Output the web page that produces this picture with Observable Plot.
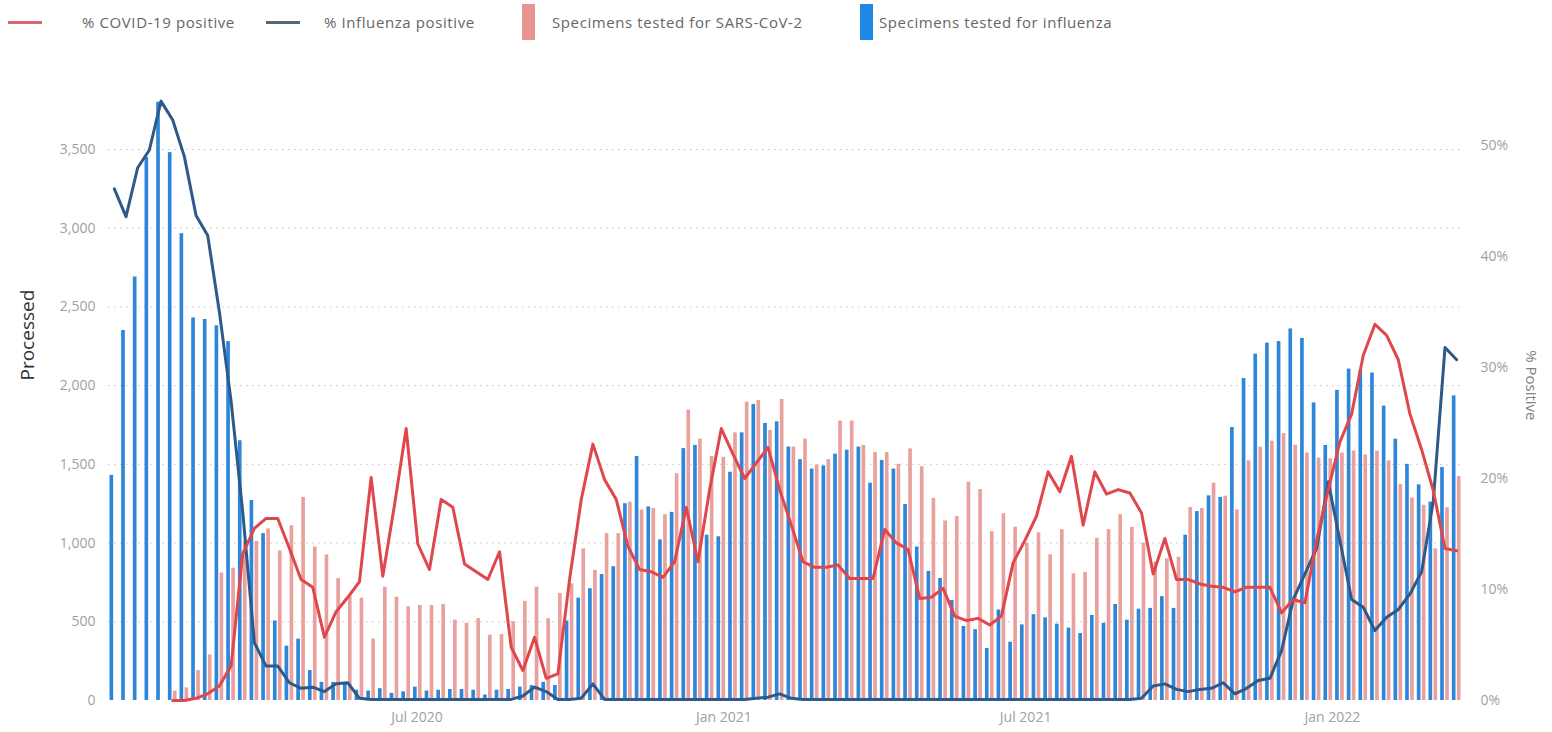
<!DOCTYPE html>
<html><head><meta charset="utf-8">
<script src="https://cdn.jsdelivr.net/npm/d3@7"></script>
<script src="https://cdn.jsdelivr.net/npm/@observablehq/plot@0.6"></script>
<style>
body{margin:0;background:#fff;font-family:"Open Sans",sans-serif;}
#legend{position:relative;width:1552px;height:50px;}
#legend .t{position:absolute;top:11px;font-size:15px;letter-spacing:0.6px;color:#666;white-space:nowrap;line-height:22px}
#legend .l{position:absolute;top:21px;height:3px;width:34px}
#legend .r{position:absolute;top:4px;width:13px;height:36px}
</style></head><body>
<div id="legend"></div>
<div id="chart"></div>
<script>
// ---- data (weekly, week starting Sunday) ----
const firstWeek = "2019-12-29";
const endWeek = "2022-03-20";
const influenzaTested = [1430,2350,2690,3450,3800,3480,2965,2430,2420,2380,
2280,1650,1270,1060,505,345,390,190,115,115,
105,65,60,75,45,55,85,60,65,70,
70,65,35,65,70,85,95,115,95,505,
650,710,800,850,1250,1550,1230,1020,1195,1600,
1620,1050,1040,1450,1700,1880,1760,1770,1610,1530,
1470,1490,1565,1590,1610,1380,1525,1470,1245,975,
820,775,635,470,450,330,575,370,480,545,
525,485,460,425,540,490,610,510,580,585,
660,585,1050,1200,1300,1290,1734,2045,2200,2270,
2280,2360,2300,1890,1620,1970,2105,2095,2080,1870,
1660,1500,1370,1260,1480,1935];
const sarsTested = [null,null,null,null,null,60,80,190,290,810,
840,1010,1010,1090,950,1110,1290,975,925,775,
665,650,390,720,656,595,603,603,610,510,
490,520,415,420,500,630,720,520,680,741,
963,826,1060,1060,1260,1210,1220,1180,1440,1845,
1660,1550,1545,1700,1895,1905,1715,1912,1610,1660,
1495,1530,1775,1775,1620,1575,1575,1500,1598,1485,
1284,1140,1168,1387,1340,1072,1186,1101,1000,1065,
925,1085,804,814,1030,1085,1180,1100,1000,880,
900,910,1225,1220,1380,1298,1211,1522,1609,1647,
1696,1622,1572,1540,1535,1572,1585,1560,1585,1522,
1373,1286,1240,963,1224,1423];
const covidPositive = [null,null,null,null,null,0,0,0.2,0.6,1.3,
3.1,13.2,15.5,16.4,16.4,13.7,10.9,10.2,5.7,8.0,
9.3,10.7,20.1,11.2,17.6,24.5,14.1,11.8,18.1,17.4,
12.3,11.6,10.9,13.4,4.8,2.7,5.7,2.0,2.4,10.9,
18.1,23.1,19.9,18.1,13.9,11.8,11.6,11.1,12.5,17.4,
12.5,19.0,24.5,22.2,20.0,21.4,22.8,19.0,15.8,12.5,
12.0,12.0,12.2,11.0,11.0,11.0,15.4,14.2,13.6,9.2,
9.3,10.1,7.6,7.2,7.4,6.8,7.6,12.4,14.4,16.6,
20.6,18.8,22.0,15.8,20.6,18.6,19.0,18.7,16.9,11.4,
14.6,10.9,10.9,10.5,10.3,10.2,9.8,10.2,10.2,10.2,
7.9,9.1,8.8,14.4,19.0,23.3,25.8,31.1,33.9,32.9,
30.7,25.8,22.6,18.9,13.7,13.5];
const influenzaPositive = [46.1,43.6,48.0,49.6,54.0,52.3,49.0,43.7,41.9,35.0,
27.0,17.0,5.2,3.1,3.1,1.6,1.1,1.2,0.8,1.5,
1.6,0.2,0.1,0.1,0.1,0.1,0.1,0.1,0.1,0.1,
0.1,0.1,0.1,0.1,0.1,0.4,1.2,0.8,0.1,0.1,
0.2,1.5,0.1,0.1,0.1,0.1,0.1,0.1,0.1,0.1,
0.1,0.1,0.1,0.1,0.1,0.2,0.3,0.6,0.2,0.1,
0.1,0.1,0.1,0.1,0.1,0.1,0.1,0.1,0.1,0.1,
0.1,0.1,0.1,0.1,0.1,0.1,0.1,0.1,0.1,0.1,
0.1,0.1,0.1,0.1,0.1,0.1,0.1,0.1,0.2,1.3,
1.5,1.0,0.8,1.0,1.1,1.6,0.6,1.1,1.8,2.0,
4.5,9.1,11.4,13.7,19.7,14.4,9.1,8.4,6.3,7.5,
8.2,9.6,11.6,18.0,31.8,30.7];
const leftTicks = [0,500,1000,1500,2000,2500,3000,3500];
const rightTicks = [0,10,20,30,40,50];
const xTickDates = ["2020-07-01","2021-01-01","2021-07-01","2022-01-01"];
const xTickLabels = ["Jul 2020","Jan 2021","Jul 2021","Jan 2022"];
const seriesNames = ["% COVID-19 positive","% Influenza positive","Specimens tested for SARS-CoV-2","Specimens tested for influenza"];

// ---- styling ----
const C = {covid:"#E0474C", flu:"#2D5A88", sars:"#E9A19D", fluBar:"#2E86DA",
           covidKey:"#D9656F", fluKey:"#51697C", sarsKey:"#E8958F", fluBarKey:"#1E88E5"};
const PCT = 70.5; // left-scale units per percentage point of the right axis

// ---- legend ----
const lg = document.getElementById("legend");
const items = [
  {kind:"l", color:C.covidKey, sw:8, tx:82},
  {kind:"l", color:C.fluKey, sw:266, tx:324},
  {kind:"r", color:C.sarsKey, sw:522, tx:552},
  {kind:"r", color:C.fluBarKey, sw:860, tx:879}
];
items.forEach((it, i) => {
  const s = document.createElement("div");
  s.className = it.kind; s.style.left = it.sw + "px"; s.style.background = it.color;
  lg.appendChild(s);
  const t = document.createElement("div");
  t.className = "t"; t.style.left = it.tx + "px"; t.textContent = seriesNames[i];
  lg.appendChild(t);
});

// ---- chart ----
const weeks = d3.utcWeek.range(new Date(firstWeek), new Date(endWeek));
const rows = weeks.map((w, i) => ({week: w, fluN: influenzaTested[i], sarsN: sarsTested[i],
  covid: covidPositive[i], flu: influenzaPositive[i]}));
const at = (d, k) => new Date(+d + k * 864e5);
const tickLabel = new Map(xTickDates.map((d, i) => [+new Date(d), xTickLabels[i]]));

const chart = Plot.plot({
  width: 1552, height: 682,
  marginLeft: 108, marginRight: 90, marginTop: 36, marginBottom: 32,
  style: {fontFamily: "Open Sans, sans-serif", fontSize: "14px", color: "#a0a0a0", background: "white"},
  x: {type: "utc", domain: [new Date(firstWeek), new Date(endWeek)]},
  y: {domain: [0, 3900]},
  marks: [
    Plot.gridY(leftTicks.slice(1), {stroke: "#c4c4c4", strokeOpacity: 1, strokeDasharray: "1.5,4.5"}),
    Plot.axisY(leftTicks, {anchor: "left", tickSize: 0, tickPadding: 13, tickFormat: d3.format(","), label: null}),
    Plot.axisY(rightTicks.map(p => p * PCT), {anchor: "right", tickSize: 0, tickPadding: 18,
      tickFormat: d => Math.round(d / PCT) + "%", label: null}),
    Plot.axisX(xTickDates.map(d => new Date(d)), {tickSize: 0, tickPadding: 12,
      tickFormat: d => tickLabel.get(+d), label: null}),
    Plot.rect(rows, {x1: d => at(d.week, 0.9), x2: d => at(d.week, 3.1), y1: 0, y2: "fluN", fill: C.fluBar}),
    Plot.rect(rows.filter(d => d.sarsN != null), {x1: d => at(d.week, 3.9), x2: d => at(d.week, 6.1),
      y1: 0, y2: "sarsN", fill: C.sars}),
    Plot.lineY(rows, {x: d => at(d.week, 3.5), y: d => d.flu * PCT, stroke: C.flu, strokeWidth: 3,
      strokeLinejoin: "round"}),
    Plot.lineY(rows.filter(d => d.covid != null), {x: d => at(d.week, 3.5), y: d => d.covid * PCT,
      stroke: C.covid, strokeWidth: 3, strokeLinejoin: "round"}),
    Plot.text(["Processed"], {frameAnchor: "left", dx: -81, dy: -13, rotate: -90, fontSize: 19, fill: "#333"}),
    Plot.text(["% Positive"], {frameAnchor: "right", dx: 68, dy: 27, rotate: 90, fontSize: 15, fill: "#808080"})
  ]
});
document.getElementById("chart").appendChild(chart);
</script>
</body></html>
